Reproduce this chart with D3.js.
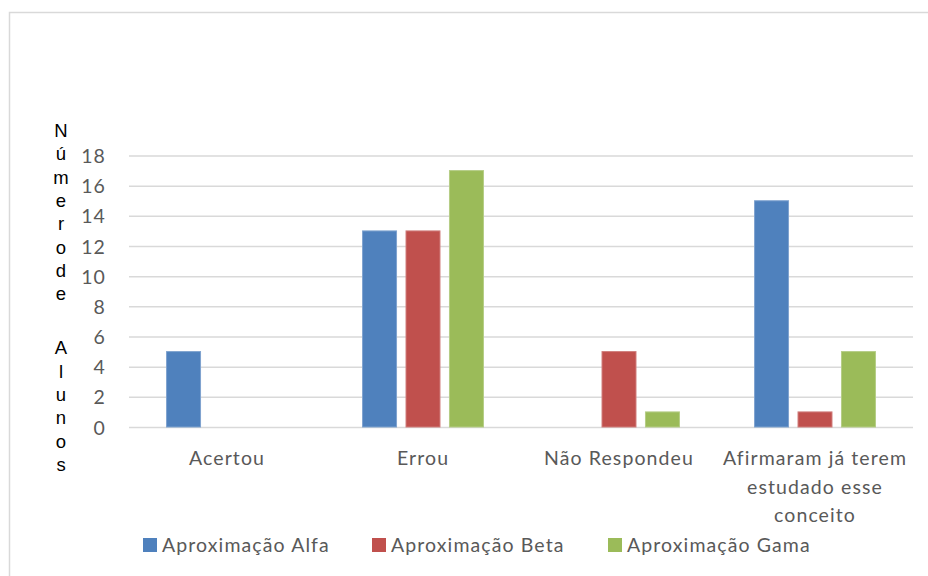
<!DOCTYPE html>
<html>
<head>
<meta charset="utf-8">
<script src="https://cdn.jsdelivr.net/npm/d3@7"></script>
<style>
  body { margin: 0; background: #fff; }
  svg { display: block; }
</style>
</head>
<body>
<svg id="chart"></svg>
<script>
// data
const categories = ["Acertou", "Errou", "Não Respondeu", "Afirmaram já terem estudado esse conceito"];
const seriesNames = ["Aproximação Alfa", "Aproximação Beta", "Aproximação Gama"];
const alfa = [5, 13, 0, 15];
const beta = [0, 13, 5, 1];
const gama = [0, 17, 1, 5];
const yTicks = [0, 2, 4, 6, 8, 10, 12, 14, 16, 18];
const yTitle = "Número de Alunos";

const colors = ["#4F81BD", "#C0504D", "#9BBB59"];
const strokes = ["#7FA3CF", "#D07E7C", "#B5CD86"];

const layout = {width: 928, height: 576, left: 129, right: 913, top: 155.5, bottom: 427};
const labelFont = "Lato, sans-serif";
const labelSize = 19.5;
const labelSpacing = "1.1px";

const values = [alfa, beta, gama];
const rows = categories.map((c, i) => ({
  cat: c,
  vals: seriesNames.map((s, j) => ({series: s, idx: j, value: values[j][i]}))
}));

const svg = d3.select("#chart")
  .attr("width", layout.width)
  .attr("height", layout.height);

// outer chart border (extends past right/bottom of frame)
svg.append("rect")
  .attr("x", 9.5).attr("y", 12.5)
  .attr("width", 960).attr("height", 600)
  .attr("fill", "none")
  .attr("stroke", "#D9D9D9")
  .attr("stroke-width", 1.5);

const x0 = d3.scaleBand()
  .domain(categories)
  .range([layout.left, layout.right]);

const x1 = d3.scaleBand()
  .domain(seriesNames)
  .range([0, x0.bandwidth()])
  .paddingInner(0.218)
  .paddingOuter(0.864);

const y = d3.scaleLinear()
  .domain([0, 18])
  .range([layout.bottom, layout.top]);

// gridlines
svg.append("g")
  .attr("transform", `translate(${layout.left},0)`)
  .call(d3.axisLeft(y).tickValues(yTicks).tickSize(-(layout.right - layout.left)).tickFormat(""))
  .call(g => g.select(".domain").remove())
  .call(g => g.selectAll("line").attr("stroke", "#D9D9D9").attr("stroke-width", 1.5));

// y tick labels
svg.append("g")
  .attr("transform", `translate(106,0)`)
  .call(d3.axisLeft(y).tickValues(yTicks).tickSize(0).tickPadding(0))
  .call(g => g.select(".domain").remove())
  .call(g => g.selectAll("text")
    .attr("fill", "#595959")
    .attr("font-family", labelFont)
    .attr("font-size", labelSize)
    .attr("letter-spacing", labelSpacing)
    .attr("dy", "0.36em"));

// bars
const groups = svg.append("g")
  .selectAll("g")
  .data(rows)
  .join("g")
  .attr("transform", d => `translate(${x0(d.cat)},0)`);

groups.selectAll("rect")
  .data(d => d.vals.filter(v => v.value > 0))
  .join("rect")
  .attr("x", d => x1(d.series))
  .attr("y", d => y(d.value))
  .attr("width", x1.bandwidth())
  .attr("height", d => y(0) - y(d.value))
  .attr("fill", d => colors[d.idx])
  .attr("stroke", d => strokes[d.idx])
  .attr("stroke-width", 1);

// category axis labels
function wrap(text, maxWidth, lineHeight) {
  text.each(function() {
    const t = d3.select(this);
    const words = t.text().split(/\s+/);
    const xPos = t.attr("x") || 0;
    t.text(null);
    let line = [];
    let tspan = t.append("tspan").attr("x", xPos).attr("dy", "0.71em");
    for (const w of words) {
      line.push(w);
      tspan.text(line.join(" "));
      if (tspan.node().getComputedTextLength() > maxWidth && line.length > 1) {
        line.pop();
        tspan.text(line.join(" "));
        line = [w];
        tspan = t.append("tspan").attr("x", xPos).attr("dy", lineHeight + "px").text(w);
      }
    }
  });
}

svg.append("g")
  .attr("transform", `translate(0,${layout.bottom})`)
  .call(d3.axisBottom(x0).tickSize(0).tickPadding(24))
  .call(g => g.select(".domain").remove())
  .call(g => g.selectAll("text")
    .attr("fill", "#595959")
    .attr("font-family", labelFont)
    .attr("font-size", labelSize)
    .attr("letter-spacing", labelSpacing)
    .call(wrap, 190, 28.7));

// y-axis title, stacked letters
const letters = Array.from(yTitle);
const spaceAt = letters.indexOf(" ");
const title = svg.append("text")
  .attr("font-family", "Liberation Sans, Arial, sans-serif")
  .attr("font-size", 18.5)
  .attr("fill", "#000")
  .attr("text-anchor", "middle");
let ty = 137;
letters.forEach((ch, i) => {
  if (ch === " ") {
    ty += i === spaceAt ? 0 : 31;
    return;
  }
  title.append("tspan").attr("x", 61).attr("y", ty).text(ch);
  ty += 23.3;
});

// legend
const legendX = [143, 372, 608];
const legend = svg.append("g")
  .selectAll("g")
  .data(seriesNames)
  .join("g")
  .attr("transform", (d, i) => `translate(${legendX[i]},538)`);

legend.append("rect")
  .attr("width", 14).attr("height", 14)
  .attr("fill", (d, i) => colors[i]);

legend.append("text")
  .attr("x", 19).attr("y", 7)
  .attr("dy", "0.36em")
  .attr("fill", "#595959")
  .attr("font-family", labelFont)
  .attr("font-size", labelSize)
  .attr("letter-spacing", labelSpacing)
  .text(d => d);
</script>
</body>
</html>
